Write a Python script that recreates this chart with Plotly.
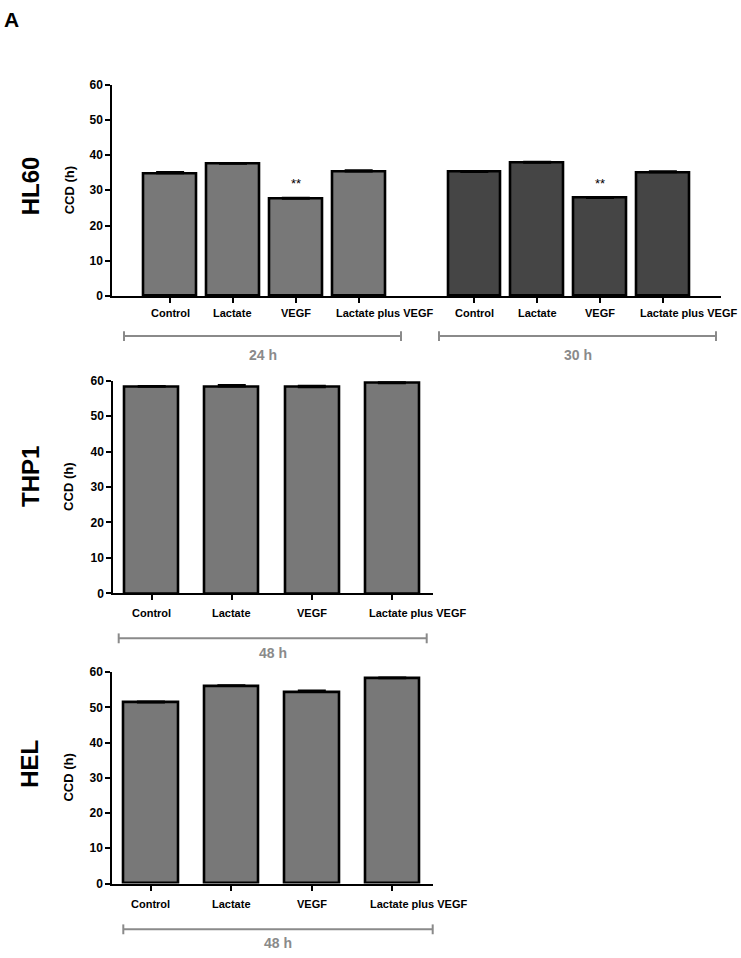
import plotly.graph_objects as go

# ---------------- data ----------------
treatments = ["Control", "Lactate", "VEGF", "Lactate plus VEGF"]

hl60_24h = [34.8, 37.5, 27.6, 35.3]
hl60_24h_sem = [0.4, 0.2, 0.3, 0.4]
hl60_30h = [35.2, 37.8, 27.8, 35.1]
hl60_30h_sem = [0.3, 0.3, 0.2, 0.3]

thp1_48h = [58.3, 58.4, 58.2, 59.3]
thp1_48h_sem = [0.2, 0.4, 0.4, 0.3]

hel_48h = [51.4, 56.1, 54.4, 58.3]
hel_48h_sem = [0.3, 0.2, 0.4, 0.2]

hl60_pos_24 = [0, 1, 2, 3]
hl60_pos_30 = [4.84, 5.84, 6.84, 7.84]
pos_48 = [0, 1, 2, 3]

y_ticks = [0, 10, 20, 30, 40, 50, 60]

# ---------------- layout helpers ----------------
W, H = 741, 958
def px(x):
    return x / W
def py(y):
    return 1 - y / H

FONT = "Liberation Sans, Arial, sans-serif"
LIGHT = "#787878"
DARK = "#454545"
GREY = "#8a8a8a"

fig = go.Figure()

def add_bars(x, y, sem, color, xa, ya, width):
    fig.add_trace(go.Bar(
        x=x, y=y, width=width,
        marker=dict(color=color, line=dict(color="black", width=2.6)),
        error_y=dict(type="data", array=sem, arrayminus=[0] * len(sem),
                     symmetric=False, color="black", thickness=2, width=14),
        xaxis=xa, yaxis=ya, showlegend=False, hoverinfo="x+y"))

add_bars(hl60_pos_24, hl60_24h, hl60_24h_sem, LIGHT, "x", "y", 0.84)
add_bars(hl60_pos_30, hl60_30h, hl60_30h_sem, DARK, "x", "y", 0.84)
add_bars(pos_48, thp1_48h, thp1_48h_sem, LIGHT, "x2", "y2", 0.675)
add_bars(pos_48, hel_48h, hel_48h_sem, LIGHT, "x3", "y3", 0.675)

def xaxis(domain, rng, tickvals, anchor):
    return dict(domain=domain, range=rng, tickvals=tickvals, showticklabels=False,
                showline=True, linecolor="black", linewidth=2, ticks="outside",
                ticklen=5, tickwidth=2, tickcolor="black", showgrid=False,
                zeroline=False, anchor=anchor)

def yaxis(domain, anchor):
    return dict(domain=domain, range=[0, 60], tickvals=y_ticks,
                showline=True, linecolor="black", linewidth=2, ticks="outside",
                ticklen=5, tickwidth=2, tickcolor="black", showgrid=False,
                zeroline=False, anchor=anchor,
                tickfont=dict(family=FONT, size=12, color="black", weight="bold"))

fig.update_layout(
    width=W, height=H, margin=dict(l=0, r=0, t=0, b=0),
    paper_bgcolor="white", plot_bgcolor="white", bargap=0,
    xaxis=xaxis([px(112.3), px(720.7)], [-0.92, 8.76], hl60_pos_24 + hl60_pos_30, "y"),
    yaxis=yaxis([py(293.3), py(78.7)], "x"),
    xaxis2=xaxis([px(113.3), px(432.7)], [-0.48, 3.51], pos_48, "y2"),
    yaxis2=yaxis([py(595), py(379.3)], "x2"),
    xaxis3=xaxis([px(112.3), px(433.3)], [-0.48, 3.51], pos_48, "y3"),
    yaxis3=yaxis([py(889.5), py(675)], "x3"),
)

ann = []
shapes = []

# category labels (long label sits offset to the right, as in the original)
def cat_labels(positions, xr, yr, yshift):
    for p, t in zip(positions, treatments):
        ann.append(dict(x=p, y=0, xref=xr, yref=yr, text=t, showarrow=False,
                        xanchor="center", yanchor="middle", yshift=yshift,
                        xshift=26 if t == "Lactate plus VEGF" else 0,
                        font=dict(family=FONT, size=11, color="black", weight="bold")))

cat_labels(hl60_pos_24, "x", "y", -17)
cat_labels(hl60_pos_30, "x", "y", -17)
cat_labels(pos_48, "x2", "y2", -20)
cat_labels(pos_48, "x3", "y3", -20)

# significance stars
for xpos, val in [(hl60_pos_24[2], hl60_24h[2]), (hl60_pos_30[2], hl60_30h[2])]:
    ann.append(dict(x=xpos, y=val, xref="x", yref="y", text="**", showarrow=False,
                    xanchor="center", yanchor="middle", yshift=15,
                    font=dict(family=FONT, size=13, color="black")))

# brackets with time labels
def bracket(x0, x1, y, label, ty):
    shapes.append(dict(type="line", xref="paper", yref="paper", x0=px(x0), x1=px(x1),
                       y0=py(y), y1=py(y), line=dict(color=GREY, width=2)))
    for xx in (x0, x1):
        shapes.append(dict(type="line", xref="paper", yref="paper", x0=px(xx), x1=px(xx),
                           y0=py(y - 5), y1=py(y + 5), line=dict(color=GREY, width=2)))
    ann.append(dict(x=px((x0 + x1) / 2), y=py(ty), xref="paper", yref="paper",
                    text=label, showarrow=False, xanchor="center", yanchor="middle",
                    font=dict(family=FONT, size=14, color=GREY, weight="bold")))

bracket(124, 401, 334, "24 h", 353)
bracket(439, 716, 334, "30 h", 353)
bracket(118.7, 426.7, 640.7, "48 h", 656)
bracket(123.3, 432.7, 936, "48 h", 950)

# row labels and axis titles
for name, yc, ttl in [("HL60", 182, 186), ("THP1", 477, 487), ("HEL", 768, 782)]:
    ann.append(dict(x=px(30), y=py(yc), xref="paper", yref="paper", text=name,
                    showarrow=False, textangle=-90, xanchor="center", yanchor="middle",
                    font=dict(family=FONT, size=24, color="black", weight="bold")))
    ann.append(dict(x=px(69), y=py(ttl), xref="paper", yref="paper", text="CCD (h)",
                    showarrow=False, textangle=-90, xanchor="center", yanchor="middle",
                    font=dict(family=FONT, size=13, color="black", weight="bold")))

ann.append(dict(x=px(11), y=py(13), xref="paper", yref="paper", text="A",
                showarrow=False, xanchor="center", yanchor="middle",
                font=dict(family=FONT, size=21, color="black", weight="bold")))

fig.update_layout(annotations=ann, shapes=shapes)
css_fix = (
    "var s=document.createElement('style');"
    "s.textContent='html,body{margin:0;padding:0;overflow:hidden;}';"
    "document.head.appendChild(s);"
)
fig.write_html("out.html", config={"displayModeBar": False}, post_script=css_fix)
